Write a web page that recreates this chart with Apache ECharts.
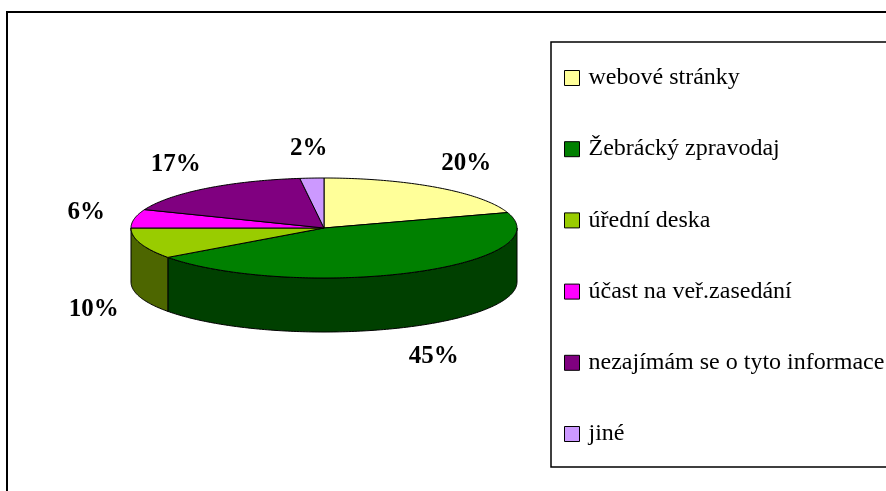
<!DOCTYPE html>
<html>
<head>
<meta charset="utf-8">
<script src="https://cdn.jsdelivr.net/npm/echarts@6/dist/echarts.min.js"></script>
<style>
  html, body { margin: 0; padding: 0; background: #fff; }
  #chart { width: 886px; height: 491px; }
</style>
</head>
<body>
<div id="chart"></div>
<script>
// data
var categories = ['webové stránky', 'Žebrácký zpravodaj', 'úřední deska', 'účast na veř.zasedání', 'nezajímám se o tyto informace', 'jiné'];
var shares = [20, 45, 10, 6, 17, 2];
var colors = ['#FFFF99', '#008000', '#99CC00', '#FF00FF', '#800080', '#CC99FF'];

// pie geometry (px)
var SQUASH = 50 / 193;   // ellipse ry / rx
var DEPTH = 54;          // side height
var LABEL_RX = 242 / 193;
var LABEL_RY = 80 / 193;
var LABEL_DROP = 57;

function darken(hex, f) {
  var n = parseInt(hex.slice(1), 16);
  var r = Math.round(((n >> 16) & 255) * f), g = Math.round(((n >> 8) & 255) * f), b = Math.round((n & 255) * f);
  return 'rgb(' + r + ',' + g + ',' + b + ')';
}

function arc(api, c, a0, a1) {
  var pts = [];
  var steps = Math.max(2, Math.ceil((a1 - a0) / 0.25));
  for (var i = 0; i <= steps; i++) {
    var p = api.coord([1, a0 + (a1 - a0) * i / steps]);
    pts.push([p[0], c[1] + (p[1] - c[1]) * SQUASH]);
  }
  return pts;
}

function renderSlice(params, api) {
  var a0 = api.value(1), a1 = api.value(2);
  var c = api.coord([0, 0]);
  var fill = colors[params.seriesIndex];
  var kids = [];
  kids.push({
    type: 'polygon', z2: 10,
    shape: { points: [c].concat(arc(api, c, a0, a1)) },
    style: { fill: fill, stroke: '#000', lineWidth: 1 }
  });
  // front half of the rim lies between 25 and 75 (clockwise from top)
  var s0 = Math.max(a0, 25), s1 = Math.min(a1, 75);
  if (s1 > s0) {
    var up = arc(api, c, s0, s1);
    var down = up.map(function (p) { return [p[0], p[1] + DEPTH]; }).reverse();
    kids.push({
      type: 'polygon', z2: 1,
      shape: { points: up.concat(down) },
      style: { fill: darken(fill, 0.5), stroke: '#000', lineWidth: 1 }
    });
  }
  var mid = (a0 + a1) / 2;
  var m = api.coord([1, mid]);
  var lx = c[0] + (m[0] - c[0]) * LABEL_RX;
  var ly = c[1] + (m[1] - c[1]) * LABEL_RY + (m[1] > c[1] ? LABEL_DROP : 0);
  kids.push({
    type: 'text', z2: 20,
    x: lx, y: ly,
    style: {
      text: Math.round(a1 - a0) + '%',
      font: 'bold 25px "Liberation Serif", "DejaVu Serif", serif',
      fill: '#000', align: 'center', verticalAlign: 'middle'
    }
  });
  return { type: 'group', children: kids };
}

var cum = 0;
var series = categories.map(function (name, i) {
  var start = cum;
  cum += shares[i];
  return {
    type: 'custom',
    name: name,
    coordinateSystem: 'polar',
    dimensions: ['radius', 'angle', 'end'],
    encode: { radius: 0, angle: 1 },
    itemStyle: { color: colors[i] },
    renderItem: renderSlice,
    data: [[1, start, cum]]
  };
});

var chart = echarts.init(document.getElementById('chart'));
chart.setOption({
  animation: false,
  backgroundColor: '#fff',
  polar: { center: [324, 228], radius: 193 },
  angleAxis: { type: 'value', min: 0, max: 100, startAngle: 90, clockwise: true, show: false },
  radiusAxis: { type: 'value', min: 0, max: 1, show: false },
  legend: {
    orient: 'vertical',
    left: 564,
    top: 66,
    padding: 0,
    icon: 'rect',
    itemWidth: 15,
    itemHeight: 15,
    itemGap: 47.2,
    data: categories,
    itemStyle: { borderColor: '#000', borderWidth: 1 },
    textStyle: {
      fontFamily: '"Liberation Serif", "DejaVu Serif", serif',
      fontSize: 24,
      lineHeight: 24,
      color: '#000',
      padding: [0, 0, 0, 4]
    },
    selectedMode: false
  },
  graphic: [
    { type: 'rect', z: -1, shape: { x: 7, y: 12, width: 900, height: 500 }, style: { fill: 'none', stroke: '#000', lineWidth: 2 } },
    { type: 'rect', z: -1, shape: { x: 551, y: 42, width: 400, height: 425 }, style: { fill: 'none', stroke: '#000', lineWidth: 1.5 } }
  ],
  series: series
});
</script>
</body>
</html>
